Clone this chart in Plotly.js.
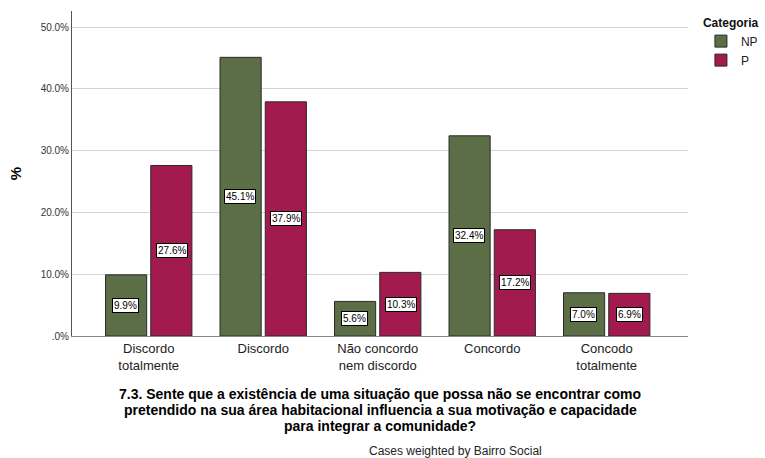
<!DOCTYPE html>
<html><head><meta charset="utf-8">
<script src="https://cdn.plot.ly/plotly-3.0.1.min.js"></script>
<style>html,body{margin:0;padding:0;background:#fff}</style>
</head><body>
<div id="chart" style="width:765px;height:458px"></div>
<script>
const categories = ["Discordo<br>totalmente", "Discordo", "Não concordo<br>nem discordo", "Concordo", "Concodo<br>totalmente"];
const seriesNames = ["NP", "P"];
const npValues = [9.9, 45.1, 5.6, 32.4, 7.0];
const pValues = [27.6, 37.9, 10.3, 17.2, 6.9];
const seriesColors = ["#5b6e46", "#a31a4e"];
const yTicks = [0, 10, 20, 30, 40, 50];
const yTickLabels = [".0%", "10.0%", "20.0%", "30.0%", "40.0%", "50.0%"];
const xTitleLines = [
  "7.3. Sente que a existência de uma situação que possa não se encontrar como",
  "pretendido na sua área habitacional influencia a sua motivação e capacidade",
  "para integrar a comunidade?"
];
const footnote = "Cases weighted by Bairro Social";

const allSeries = [npValues, pValues];
const traces = allSeries.map((vals, i) => ({
  type: "bar",
  name: seriesNames[i],
  x: categories,
  y: vals,
  marker: {color: seriesColors[i], line: {color: "#2b2b2b", width: 1}},
  hoverinfo: "none"
}));

const offsets = [-0.2, 0.2];
const annotations = [];
allSeries.forEach((vals, i) => {
  vals.forEach((v, j) => {
    annotations.push({
      xref: "x", yref: "y", x: j + offsets[i], y: v / 2,
      text: v.toFixed(1) + "%", showarrow: false,
      font: {family: "Arial", size: 10, color: "#000"},
      bgcolor: "#fff", bordercolor: "#000", borderwidth: 1, borderpad: 1
    });
  });
});
const titleY = [-0.178, -0.2272, -0.2764];
xTitleLines.forEach((t, k) => {
  annotations.push({
    xref: "paper", yref: "paper", x: 0.5, y: titleY[k], xanchor: "center", yanchor: "middle",
    text: t, showarrow: false,
    font: {family: "Arial", size: 14, color: "#000", weight: "bold"}
  });
});
annotations.push({
  xref: "paper", yref: "paper", x: 0.623, y: -0.354, xanchor: "center", yanchor: "middle",
  text: footnote, showarrow: false,
  font: {family: "Arial", size: 12, color: "#222"}
});

const layout = {
  width: 765, height: 458,
  margin: {l: 72, r: 77, t: 11, b: 122, autoexpand: false},
  paper_bgcolor: "#fff", plot_bgcolor: "#fff",
  barmode: "group", bargap: 0.21, bargroupgap: 0.09,
  font: {family: "Arial", color: "#222"},
  xaxis: {
    type: "category", range: [-0.67, 4.71],
    showline: true, linecolor: "#888", linewidth: 1,
    ticks: "", tickfont: {family: "Arial", size: 13, color: "#222"}
  },
  yaxis: {
    range: [0, 52.6], tickvals: yTicks, ticktext: yTickLabels,
    showgrid: true, gridcolor: "#d4d4d4", gridwidth: 1,
    zeroline: false, showline: true, linecolor: "#555", linewidth: 1,
    ticks: "", tickfont: {family: "Arial", size: 10, color: "#333"},
    title: {text: "%", font: {family: "Arial", size: 15, color: "#000", weight: "bold"}, standoff: 15}
  },
  legend: {
    x: 1.021, xanchor: "left", y: 1.0, yanchor: "top",
    title: {text: "Categoria", font: {family: "Arial", size: 12, weight: "bold", color: "#111"}},
    font: {family: "Arial", size: 12, color: "#222"},
    itemwidth: 30, tracegroupgap: 0
  },
  showlegend: true,
  annotations: annotations
};

Plotly.newPlot("chart", traces, layout, {displayModeBar: false, staticPlot: true});
</script>
</body></html>
